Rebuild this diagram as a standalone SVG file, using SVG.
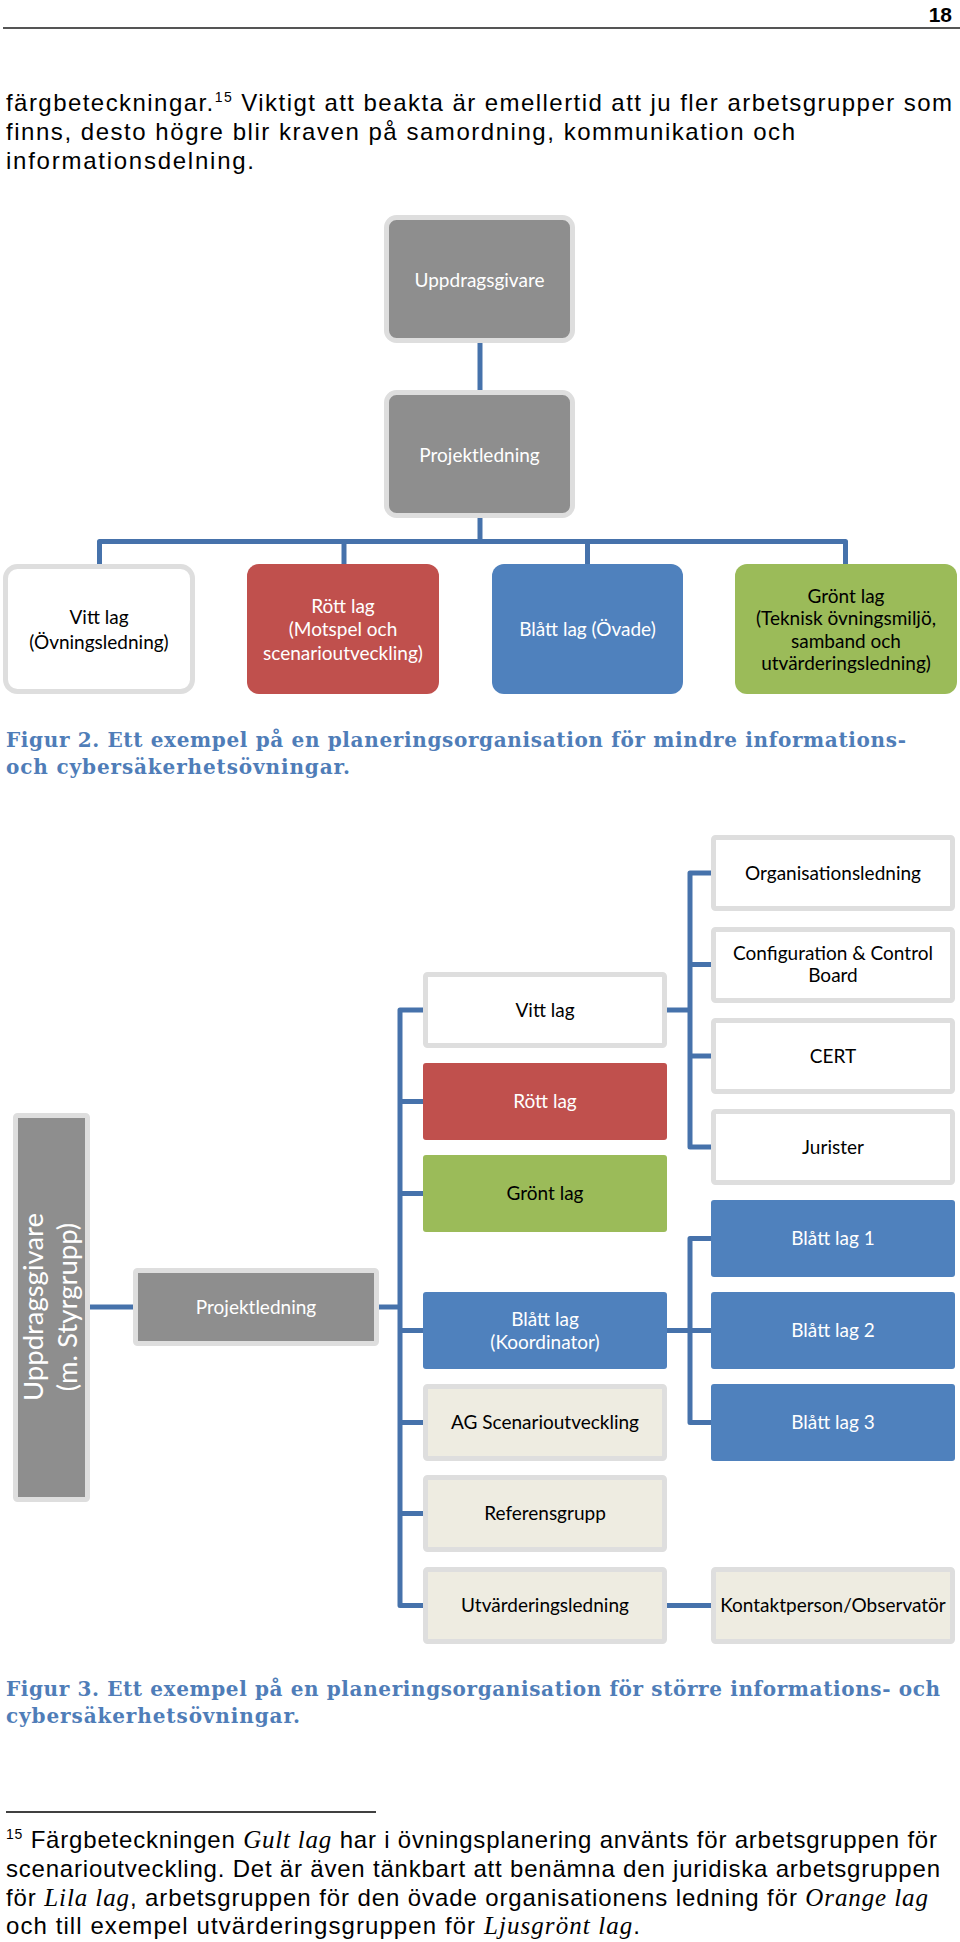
<svg xmlns="http://www.w3.org/2000/svg" width="960" height="1942" viewBox="0 0 960 1942">
<style>
.body{font-family:"Liberation Sans",Arial,sans-serif;font-size:24px;fill:#000}
.sup{font-size:14px}
.it{font-family:"Liberation Serif","Times New Roman",serif;font-style:italic;font-size:25px}
.cap{font-family:"DejaVu Serif",Georgia,serif;font-weight:bold;font-size:20px;fill:#4f7db8}
.lbl{font-family:Lato,"Open Sans",sans-serif;font-size:19px;text-anchor:middle}
.tw{fill:#fff}
.tk{fill:#000}
.conn{fill:none;stroke:#4672ab;stroke-width:5;stroke-linejoin:round}
.gray{fill:#8e8e8e;stroke:#dedede;stroke-width:5}
.white{fill:#fff;stroke:#dedede;stroke-width:5}
.beige{fill:#eeece1;stroke:#dedede;stroke-width:5}
.red{fill:#c0504d}
.blue{fill:#4f81bd}
.green{fill:#9bbb59}
</style>

<!-- page header -->
<text x="952" y="22" font-family="Liberation Sans, Arial, sans-serif" font-weight="bold" font-size="21" text-anchor="end">18</text>
<line x1="3" y1="28" x2="960" y2="28" stroke="#555" stroke-width="2"/>

<!-- paragraph -->
<text class="body" x="6" y="111" textLength="946">färgbeteckningar.<tspan class="sup" dy="-9">15</tspan><tspan dy="9"> Viktigt att beakta är emellertid att ju fler arbetsgrupper som</tspan></text>
<text class="body" x="6" y="140" textLength="789">finns, desto högre blir kraven på samordning, kommunikation och</text>
<text class="body" x="6" y="169" textLength="248">informationsdelning.</text>

<!-- Figure 2 connectors -->
<g id="fig2-connectors">
<path class="conn" d="M480,343 V390"/>
<path class="conn" d="M480,518 V541.5"/>
<path class="conn" d="M99.5,564 V541.5 H845.5 V564"/>
<path class="conn" d="M344,541.5 V564"/>
<path class="conn" d="M587.5,541.5 V564"/>
</g>

<!-- Figure 2 nodes -->
<g id="f2-uppdragsgivare">
<rect class="gray" x="386.5" y="217.5" width="186" height="123" rx="10"/>
<text class="lbl tw" x="479.5" y="287">Uppdragsgivare</text>
</g>
<g id="f2-projektledning">
<rect class="gray" x="386.5" y="392.5" width="186" height="123" rx="10"/>
<text class="lbl tw" x="479.5" y="462">Projektledning</text>
</g>
<g id="f2-vitt">
<rect class="white" x="5.5" y="566.5" width="187" height="125" rx="12"/>
<text class="lbl tk" x="99" y="624">Vitt lag</text>
<text class="lbl tk" x="99" y="649">(Övningsledning)</text>
</g>
<g id="f2-rott">
<rect class="red" x="247" y="564" width="192" height="130" rx="12"/>
<text class="lbl tw" x="343" y="613">Rött lag</text>
<text class="lbl tw" x="343" y="636">(Motspel och</text>
<text class="lbl tw" x="343" y="660">scenarioutveckling)</text>
</g>
<g id="f2-blatt">
<rect class="blue" x="492" y="564" width="191" height="130" rx="12"/>
<text class="lbl tw" x="587.5" y="636">Blått lag (Övade)</text>
</g>
<g id="f2-gront">
<rect class="green" x="735" y="564" width="222" height="130" rx="12"/>
<text class="lbl tk" x="846" y="603">Grönt lag</text>
<text class="lbl tk" x="846" y="625">(Teknisk övningsmiljö,</text>
<text class="lbl tk" x="846" y="648">samband och</text>
<text class="lbl tk" x="846" y="670">utvärderingsledning)</text>
</g>

<text class="cap" x="6" y="747" textLength="900">Figur 2. Ett exempel på en planeringsorganisation för mindre informations-</text>
<text class="cap" x="6" y="774" textLength="344">och cybersäkerhetsövningar.</text>

<!-- Figure 3 connectors -->
<g id="fig3-connectors">
<path class="conn" d="M90,1307 H133"/>
<path class="conn" d="M379,1307 H400"/>
<path class="conn" d="M423,1010 H400 V1605.5 H423"/>
<path class="conn" d="M400,1101.5 H423"/>
<path class="conn" d="M400,1193.5 H423"/>
<path class="conn" d="M400,1330.5 H423"/>
<path class="conn" d="M400,1422.5 H423"/>
<path class="conn" d="M400,1513.5 H423"/>
<path class="conn" d="M711,873 H690 V1147 H711"/>
<path class="conn" d="M690,964.5 H711"/>
<path class="conn" d="M690,1056 H711"/>
<path class="conn" d="M667,1010 H690"/>
<path class="conn" d="M711,1238.5 H690 V1422.5 H711"/>
<path class="conn" d="M667,1330.5 H711"/>
<path class="conn" d="M667,1605.5 H711"/>
</g>

<!-- Figure 3 nodes -->
<g id="f3-uppdragsgivare">
<rect class="gray" x="15.5" y="1115.5" width="72" height="384" rx="2"/>
<text class="lbl tw" transform="translate(43,1307) rotate(-90)" style="font-size:27.5px">Uppdragsgivare</text>
<text class="lbl tw" transform="translate(77,1307) rotate(-90)" style="font-size:27.5px">(m. Styrgrupp)</text>
</g>
<g id="f3-projektledning">
<rect class="gray" x="135.5" y="1270.5" width="241" height="73" rx="2"/>
<text class="lbl tw" x="256" y="1313.5">Projektledning</text>
</g>
<g id="f3-vitt">
<rect class="white" x="425.5" y="974.5" width="239" height="71" rx="2"/>
<text class="lbl tk" x="545" y="1016.5">Vitt lag</text>
</g>
<g id="f3-rott">
<rect class="red" x="423" y="1063" width="244" height="77" rx="3"/>
<text class="lbl tw" x="545" y="1108">Rött lag</text>
</g>
<g id="f3-gront">
<rect class="green" x="423" y="1155" width="244" height="77" rx="3"/>
<text class="lbl tk" x="545" y="1200">Grönt lag</text>
</g>
<g id="f3-blatt-koord">
<rect class="blue" x="423" y="1292" width="244" height="77" rx="3"/>
<text class="lbl tw" x="545" y="1326">Blått lag</text>
<text class="lbl tw" x="545" y="1349">(Koordinator)</text>
</g>
<g id="f3-ag">
<rect class="beige" x="425.5" y="1386.5" width="239" height="72" rx="2"/>
<text class="lbl tk" x="545" y="1429">AG Scenarioutveckling</text>
</g>
<g id="f3-ref">
<rect class="beige" x="425.5" y="1477.5" width="239" height="72" rx="2"/>
<text class="lbl tk" x="545" y="1520">Referensgrupp</text>
</g>
<g id="f3-utv">
<rect class="beige" x="425.5" y="1569.5" width="239" height="72" rx="2"/>
<text class="lbl tk" x="545" y="1612">Utvärderingsledning</text>
</g>
<g id="f3-org">
<rect class="white" x="713.5" y="837.5" width="239" height="71" rx="2"/>
<text class="lbl tk" x="833" y="879.5">Organisationsledning</text>
</g>
<g id="f3-ccb">
<rect class="white" x="713.5" y="929.5" width="239" height="71" rx="2"/>
<text class="lbl tk" x="833" y="960">Configuration &amp; Control</text>
<text class="lbl tk" x="833" y="982">Board</text>
</g>
<g id="f3-cert">
<rect class="white" x="713.5" y="1020.5" width="239" height="71" rx="2"/>
<text class="lbl tk" x="833" y="1062.5">CERT</text>
</g>
<g id="f3-jurister">
<rect class="white" x="713.5" y="1111.5" width="239" height="71" rx="2"/>
<text class="lbl tk" x="833" y="1153.5">Jurister</text>
</g>
<g id="f3-bl1">
<rect class="blue" x="711" y="1200" width="244" height="77" rx="3"/>
<text class="lbl tw" x="833" y="1245">Blått lag 1</text>
</g>
<g id="f3-bl2">
<rect class="blue" x="711" y="1292" width="244" height="77" rx="3"/>
<text class="lbl tw" x="833" y="1337">Blått lag 2</text>
</g>
<g id="f3-bl3">
<rect class="blue" x="711" y="1384" width="244" height="77" rx="3"/>
<text class="lbl tw" x="833" y="1429">Blått lag 3</text>
</g>
<g id="f3-kontakt">
<rect class="beige" x="713.5" y="1569.5" width="239" height="72" rx="2"/>
<text class="lbl tk" x="833" y="1612">Kontaktperson/Observatör</text>
</g>

<text class="cap" x="6" y="1696" textLength="934">Figur 3. Ett exempel på en planeringsorganisation för större informations- och</text>
<text class="cap" x="6" y="1723" textLength="294">cybersäkerhetsövningar.</text>

<!-- footnote -->
<line x1="6" y1="1812" x2="376" y2="1812" stroke="#000" stroke-width="1.5"/>
<text class="body" x="6" y="1848" textLength="931"><tspan class="sup" dy="-9">15</tspan><tspan dy="9"> Färgbeteckningen </tspan><tspan class="it">Gult lag</tspan> har i övningsplanering använts för arbetsgruppen för</text>
<text class="body" x="6" y="1877" textLength="934">scenarioutveckling. Det är även tänkbart att benämna den juridiska arbetsgruppen</text>
<text class="body" x="6" y="1906" textLength="922">för <tspan class="it">Lila lag</tspan>, arbetsgruppen för den övade organisationens ledning för <tspan class="it">Orange lag</tspan></text>
<text class="body" x="6" y="1934" textLength="634">och till exempel utvärderingsgruppen för <tspan class="it">Ljusgrönt lag</tspan>.</text>
</svg>
